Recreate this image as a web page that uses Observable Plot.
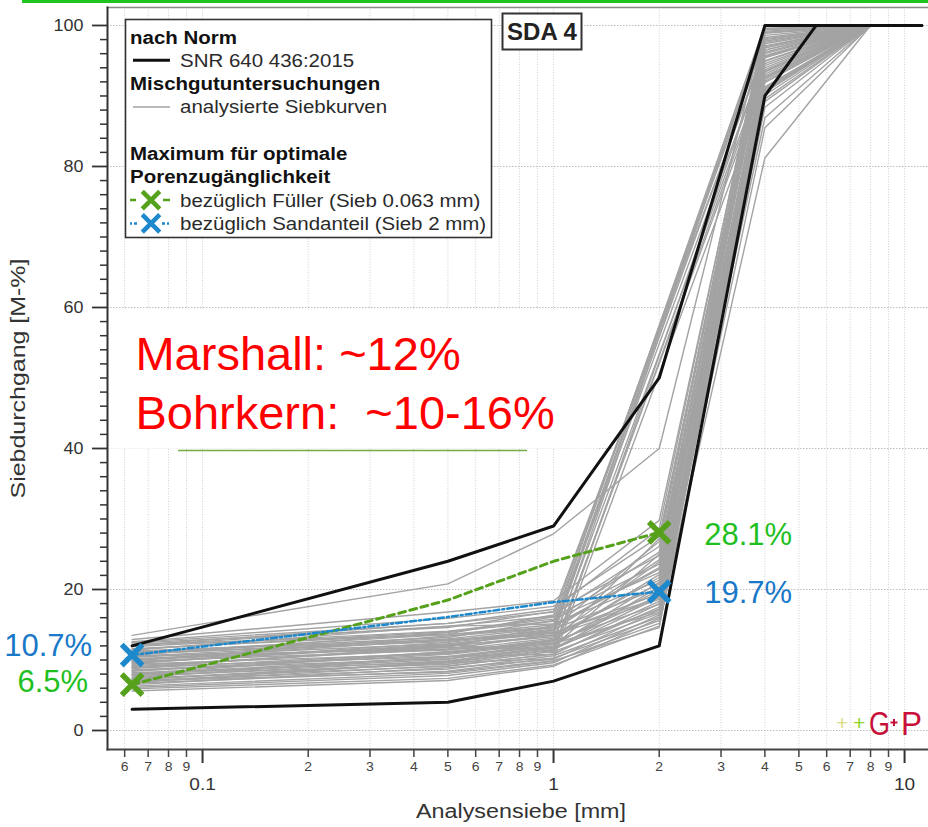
<!DOCTYPE html>
<html><head><meta charset="utf-8">
<script src="https://cdn.jsdelivr.net/npm/d3@7"></script>
<script src="https://cdn.jsdelivr.net/npm/@observablehq/plot@0.6"></script>
<style>
body{margin:0;background:#fff;}
#chart{position:relative;width:928px;height:827px;overflow:hidden;}
svg text{white-space:pre;}
</style></head><body><div id="chart"></div>
<script>
const FONT = "'Liberation Sans', Arial, Helvetica, sans-serif";

// sieve sizes [mm] of the analysed curves
const sieves = [0.063, 0.5, 1, 2, 4, 8];
// analysed grading curves (passing %), null = sieve not reported
const curves = [
  [13.5, 20.8, 27.9, 40.0, 100, 100],
  [12.9, 16.8, 18.4, 29.8, 99.2, 100],
  [12.6, 15.9, 17.6, 27.5, 97.8, 100],
  [12.4, 14.6, 16.9, 24.8, 96.5, 100],
  [12.1, 15.2, 17.2, 28.6, 100, 100],
  [11.9, 14.1, 15.8, 22.4, 94.3, 100],
  [11.6, 13.7, 16.4, 26.1, 98.6, 100],
  [11.4, 14.8, 15.1, 21.3, 92.8, 100],
  [11.1, 13.2, 15.6, 25.3, 97.1, 100],
  [10.9, 12.6, 14.4, 20.2, 95.4, 100],
  [10.7, 13.9, 16.1, 23.6, 99.5, 100],
  [10.4, 12.3, 13.8, 19.4, 91.2, 100],
  [10.2, 11.8, 14.9, 22.9, 96.2, 100],
  [10.0, 12.9, 13.5, 18.6, 89.6, 100],
  [9.8, 11.4, 13.1, 21.7, 93.7, 100],
  [9.6, 12.1, 14.2, 24.2, 98.1, 100],
  [9.4, 10.9, 12.7, 17.9, 92.4, 100],
  [9.2, 11.6, 13.6, 20.8, 95.0, 100],
  [9.0, 10.5, 12.2, 19.9, 92.1, 100],
  [8.8, 11.1, 12.9, 22.1, 97.4, 100],
  [8.6, 10.2, 11.8, 17.2, 86.9, 100],
  [8.4, 10.8, 12.4, 19.1, 94.6, 100],
  [8.2, 9.7, 11.5, 18.3, 90.7, 100],
  [8.0, 10.4, 12.0, 21.0, 96.8, 100],
  [7.8, 9.4, 11.2, 16.6, 91.3, 100],
  [7.6, 9.9, 11.7, 18.9, 93.1, 100],
  [7.4, 9.1, 10.9, 17.5, 89.2, 100],
  [7.3, 9.6, 11.4, 20.4, 98.9, 100],
  [7.1, 8.7, 10.6, 16.1, 90.5, 100],
  [6.9, 9.2, 10.8, 18.0, 95.7, 100],
  [6.7, 8.4, 10.3, 15.6, 88.4, 100],
  [6.5, 8.9, 10.1, 17.1, 91.9, 100],
  [6.3, 8.1, 9.8, 15.2, 81.2, 100],
  [6.1, 7.8, 9.6, 16.4, 90.1, 100],
  [5.9, 7.4, 9.3, 14.8, 85.5, 100],
  [5.6, 7.1, 9.1, 15.9, 93.4, 100],
  [12.2, 13.6, 14.7, 23.1, 99.0, 100],
  [11.3, 12.8, 13.9, 18.8, 94.9, 100],
  [9.9, 13.4, 14.6, 26.8, 99.6, 100],
  [8.9, 12.0, 13.3, 23.9, 97.6, 100],
  [7.9, 10.1, 12.6, 27.2, 98.3, 100],
  [6.8, 9.8, 11.9, 25.0, 96.0, 100],
  [10.6, 11.5, 12.3, 16.8, 90.9, 100],
  [7.0, 8.3, 9.9, 14.6, 92.6, 100],
  [11.5, 14.0, 15.5, null, 99.0, 100],
  [10.8, 13.0, 14.6, null, 97.0, 100],
  [9.5, 12.5, 14.0, null, 100, 100],
  [12.0, 14.8, 16.2, null, 98.0, 100],
  [8.5, 11.0, 12.8, null, 94.0, 100],
  [10.0, 12.0, 13.5, null, 99.4, 100],
  [9.0, 11.8, 11.6, null, 92.5, 100],
  [11.0, 13.6, 15.0, null, 100, 100],
  [7.5, 10.5, 10.8, null, 95.5, 100],
  [12.5, 15.2, 16.8, null, 96.5, 100],
  [8.0, 11.2, 12.4, null, 99.5, 100],
  [10.5, 12.8, 14.2, null, 95.5, 100],
  [7.2, 9.6, 10.2, null, 91.0, 100],
  [9.7, 12.2, 11.1, null, 93.5, 100]
];

// SNR 640 436:2015 limits
const normUpperSieves = [0.063, 0.5, 1, 2, 4, 11.2];
const normUpper = [12, 24, 29, 50, 100, 100];
const normLowerSieves = [0.063, 0.5, 1, 2, 4, 5.6, 11.2];
const normLower = [3, 4, 7, 12, 90, 100, 100];

// maximum for optimal pore accessibility
const optSieves = [0.063, 0.5, 1, 2];
const optFueller = [6.5, 18.5, 24.0, 28.1];
const optSand = [10.7, 16.1, 18.2, 19.7];

// marked points + their labels
const markPoints = [
  {x: 0.063, y: 6.5, text: "6.5%", kind: "fueller"},
  {x: 2, y: 28.1, text: "28.1%", kind: "fueller"},
  {x: 0.063, y: 10.7, text: "10.7%", kind: "sand"},
  {x: 2, y: 19.7, text: "19.7%", kind: "sand"}
];
// label placement relative to its point: [dx, dy, anchor]
const labelPlacement = {"6.5%": [-44, -3, "end"], "10.7%": [-40, -9, "end"], "28.1%": [45, 3, "start"], "19.7%": [45, 1, "start"]};

// annotation
const annotLines = [
  {x: 0.0644, y: 51.1, text: "Marshall: ~12%"},
  {x: 0.0644, y: 42.8, text: "Bohrkern:  ~10-16%"}
];
const annotBox = [{x1: 0.0547, x2: 1.335, y1: 39.9, y2: 59.7}];
const annotRule = [{x1: 0.0854, x2: 0.843, y: 39.7}];

// ticks
const xMinorTicks = [0.06, 0.07, 0.08, 0.09, 0.2, 0.3, 0.4, 0.5, 0.6, 0.7, 0.8, 0.9, 2, 3, 4, 5, 6, 7, 8, 9];
const xMinorLabels = ["6", "7", "8", "9", "2", "3", "4", "5", "6", "7", "8", "9", "2", "3", "4", "5", "6", "7", "8", "9"];
const xMajorTicks = [0.1, 1, 10];
const xMajorLabels = ["0.1", "1", "10"];
const yMajorTicks = [0, 20, 40, 60, 80, 100];
const yMinorTicks = [2,4,6,8,10,12,14,16,18,22,24,26,28,30,32,34,36,38,42,44,46,48,50,52,54,56,58,62,64,66,68,70,72,74,76,78,82,84,86,88,90,92,94,96,98];

// titles
const xTitle = "Analysensiebe [mm]";
const yTitle = "Siebdurchgang [M-%]";

// legend
const legendRows = [
  {text: "nach Norm", bold: true},
  {text: "SNR 640 436:2015", key: "norm"},
  {text: "Mischgutuntersuchungen", bold: true},
  {text: "analysierte Siebkurven", key: "curve"},
  {text: ""},
  {text: "Maximum für optimale", bold: true},
  {text: "Porenzugänglichkeit", bold: true},
  {text: "bezüglich Füller (Sieb 0.063 mm)", key: "fueller"},
  {text: "bezüglich Sandanteil (Sieb 2 mm)", key: "sand"}
];

const COL = {
  curve: "#a3a3a3", norm: "#111", fueller: "#55a11c", sand: "#1d88cc",
  fuellerText: "#1fbf1f", sandText: "#1a78c8", red: "#ff0000"
};

// long-format tables
const curveRows = [];
curves.forEach((c, i) => c.forEach((v, j) => { if (v != null) curveRows.push({id: i, x: sieves[j], y: v}); }));
const normRows = [
  ...normUpperSieves.map((s, i) => ({id: "upper", x: s, y: normUpper[i]})),
  ...normLowerSieves.map((s, i) => ({id: "lower", x: s, y: normLower[i]}))
];
const fuellerRows = optSieves.map((s, i) => ({x: s, y: optFueller[i]}));
const sandRows = optSieves.map((s, i) => ({x: s, y: optSand[i]}));

const pctMarks = markPoints.map(d => {
  const [dx, dy, anchor] = labelPlacement[d.text];
  return Plot.text([d], {x: "x", y: "y", text: "text", fontSize: 31, dx, dy, textAnchor: anchor,
    fill: d.kind === "fueller" ? COL.fuellerText : COL.sandText});
});

const plot = Plot.plot({
  width: 928, height: 827,
  marginLeft: 107, marginRight: 0, marginTop: 7, marginBottom: 78,
  x: {type: "log", domain: [0.05361, 11.70]},
  y: {domain: [-2.695, 102.55]},
  style: {fontFamily: FONT, background: "white", color: "#333", overflow: "visible"},
  marks: [
    Plot.ruleX([...xMinorTicks, ...xMajorTicks], {stroke: "#cfcfcf", strokeDasharray: "1,1.6"}),
    Plot.ruleY(yMajorTicks, {stroke: "#bdbdbd", strokeDasharray: "1.5,1.5"}),
    Plot.rect(annotBox, {x1: "x1", x2: "x2", y1: "y1", y2: "y2", fill: "white"}),
    Plot.ruleY(annotRule, {y: "y", x1: "x1", x2: "x2", stroke: "#70ad47", strokeWidth: 1.5}),
    Plot.line(curveRows, {x: "x", y: "y", z: "id", stroke: COL.curve, strokeWidth: 1.4}),
    Plot.line(normRows, {x: "x", y: "y", z: "id", stroke: COL.norm, strokeWidth: 3}),
    Plot.line(fuellerRows, {x: "x", y: "y", stroke: COL.fueller, strokeWidth: 3, strokeDasharray: "7,4.5"}),
    Plot.line(sandRows, {x: "x", y: "y", stroke: COL.sand, strokeWidth: 2.5, strokeDasharray: "6,3,2,3"}),
    Plot.dot(markPoints, {x: "x", y: "y", symbol: "times", r: 9.5, strokeWidth: 5.5,
      stroke: d => d.kind === "fueller" ? COL.fueller : COL.sand}),
    ...pctMarks,
    Plot.text(annotLines, {x: "x", y: "y", text: "text", fontSize: 47, fill: COL.red,
      textAnchor: "start", lineAnchor: "bottom"}),
    Plot.axisX(xMinorTicks, {tickSize: 8, tickPadding: 5, fontSize: 12.5, text: (d, i) => xMinorLabels[i], label: null, color: "#444", strokeWidth: 1.5}),
    Plot.axisX(xMajorTicks, {tickSize: 14, tickPadding: 14, fontSize: 17, text: (d, i) => xMajorLabels[i], label: null, color: "#333", strokeWidth: 2}),
    Plot.axisY(yMajorTicks, {tickSize: 15, tickPadding: 9, fontSize: 16, label: null, color: "#333", strokeWidth: 1.8}),
    Plot.axisY(yMinorTicks, {tickSize: 7, tickFormat: () => "", label: null, color: "#333", strokeWidth: 1.5}),
    Plot.frame({anchor: "top", stroke: "#888", strokeWidth: 1.5}),
    Plot.frame({anchor: "left", stroke: "#333", strokeWidth: 2}),
    Plot.frame({anchor: "bottom", stroke: "#444", strokeWidth: 2}),
    Plot.text([xTitle], {text: d => d, frameAnchor: "bottom", lineAnchor: "bottom", textAnchor: "middle", dy: 68, dx: 3, fontSize: 20, fill: "#333"}),
    Plot.text([yTitle], {text: d => d, frameAnchor: "left", textAnchor: "middle", lineAnchor: "middle", rotate: -90, dx: -89, fontSize: 21, fill: "#333"})
  ]
});
document.getElementById("chart").appendChild(plot);

const svg = d3.select(plot);
// legend
const lg = svg.append("g").attr("font-family", FONT).attr("text-anchor", "start");
lg.append("rect").attr("x", 125.5).attr("y", 19.5).attr("width", 366).attr("height", 218)
  .attr("fill", "#fff").attr("stroke", "#333").attr("stroke-width", 1.6);
legendRows.forEach((r, i) => {
  if (!r.text) return;
  const cy = 37 + i * 23.3;
  lg.append("text").attr("x", r.bold ? 130 : 180).attr("y", cy).attr("dy", "0.36em")
    .attr("font-size", 18.3).attr("font-weight", r.bold ? "bold" : null)
    .attr("fill", r.bold ? "#111" : "#2a2a2a").attr("class", "stretch").text(r.text);
  if (r.key === "norm") lg.append("line").attr("x1", 133).attr("x2", 170).attr("y1", cy).attr("y2", cy).attr("stroke", COL.norm).attr("stroke-width", 3);
  if (r.key === "curve") lg.append("line").attr("x1", 133).attr("x2", 170).attr("y1", cy).attr("y2", cy).attr("stroke", COL.curve).attr("stroke-width", 1.5);
  if (r.key === "fueller" || r.key === "sand") {
    const c = COL[r.key];
    lg.append("line").attr("x1", 130).attr("x2", 170).attr("y1", cy).attr("y2", cy).attr("stroke", c).attr("stroke-width", 2.5)
      .attr("stroke-dasharray", r.key === "fueller" ? "6,27,7" : "2,2,3,25,3,2,2");
    lg.append("path").attr("d", d3.symbol(d3.symbolTimes, 200)()).attr("transform", `translate(151,${cy})`)
      .attr("fill", "none").attr("stroke", c).attr("stroke-width", 4.5);
  }
});
// SDA 4 box
svg.append("rect").attr("x", 502.5).attr("y", 13.5).attr("width", 79).attr("height", 36)
  .attr("fill", "#fff").attr("stroke", "#333").attr("stroke-width", 2);
svg.append("text").attr("x", 542).attr("y", 31.5).attr("dy", "0.36em").attr("text-anchor", "middle")
  .attr("font-family", FONT).attr("font-weight", "bold").attr("font-size", 24).attr("fill", "#222").text("SDA 4");
// top green bar
svg.append("rect").attr("x", 22).attr("y", 0).attr("width", 906).attr("height", 3).attr("fill", "#1fc41f");
// G+P logo
const lo = svg.append("g").attr("font-family", FONT).attr("text-anchor", "start");
const pp = lo.append("text").attr("y", 730).attr("font-size", 21);
pp.append("tspan").attr("x", 836).attr("fill", "#dcdc84").text("+");
pp.append("tspan").attr("x", 853).attr("fill", "#8ed61c").text("+");
lo.append("text").attr("x", 869).attr("y", 735).attr("font-size", 34).attr("fill", "#c8103a")
  .attr("textLength", 21).attr("lengthAdjust", "spacingAndGlyphs").text("G");
lo.append("path").attr("d", "M890.5,722.5h7M894,719v7").attr("stroke", "#c8103a").attr("stroke-width", 2);
lo.append("text").attr("x", 901).attr("y", 735).attr("font-size", 34).attr("fill", "#c8103a")
  .attr("textLength", 21).attr("lengthAdjust", "spacingAndGlyphs").text("P");

// horizontal stretch of chart texts (original image is widened)
const STRETCH = 1.12;
svg.selectAll('g[aria-label="x-axis tick label"] text, g[aria-label="y-axis tick label"] text, text.stretch').each(function() {
  const len = this.getComputedTextLength();
  if (len > 0) d3.select(this).attr("textLength", len * STRETCH).attr("lengthAdjust", "spacingAndGlyphs");
});
svg.selectAll("text").filter(function() { return this.textContent === xTitle; })
  .attr("textLength", 210).attr("lengthAdjust", "spacingAndGlyphs");
svg.selectAll("text").filter(function() { return this.textContent === yTitle; })
  .attr("textLength", 240).attr("lengthAdjust", "spacingAndGlyphs");
</script>
</body></html>
